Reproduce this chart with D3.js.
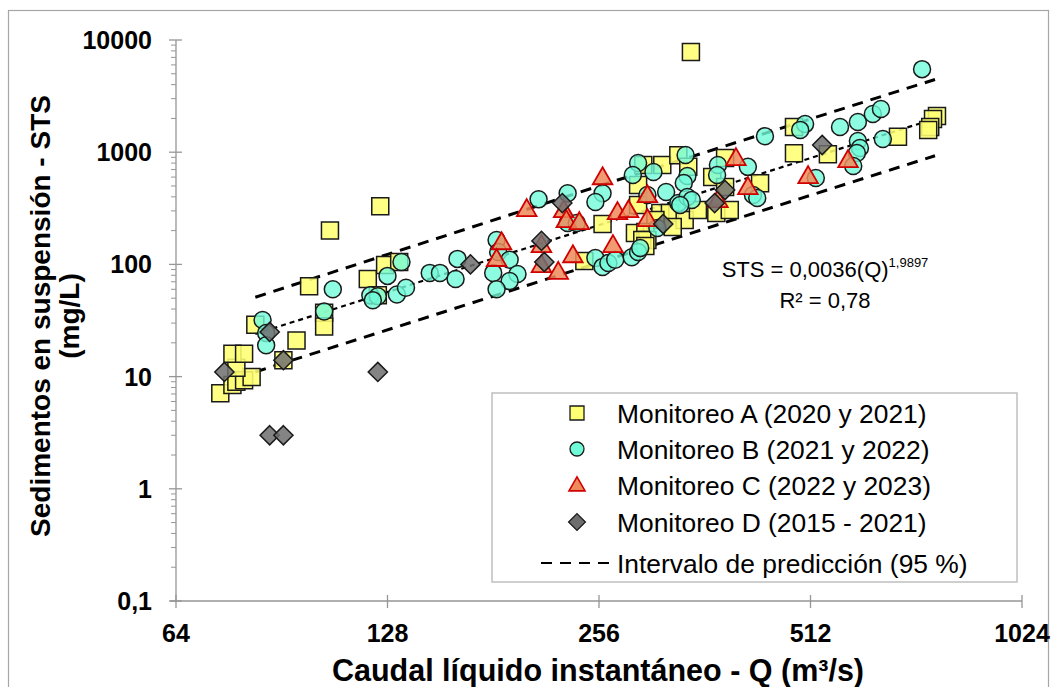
<!DOCTYPE html>
<html><head><meta charset="utf-8">
<script src="https://cdn.jsdelivr.net/npm/d3@7"></script>
<style>
html,body{margin:0;padding:0;background:#fff;}
svg{display:block;font-family:"Liberation Sans",Arial,sans-serif;}
</style></head>
<body><svg id="c" width="1056" height="687"></svg>
<script>
// ---- data (Q m3/s, STS mg/L) ----
const monitoreoA = [[74,7.1],[77,8.4],[78,9.0],[80,9.3],[82,9.9],[78,12],[77,16],[80,16],[83,29],[91,14],[95,21],[99,64],[104,37],[104,28],[106,200],[125,330],[120,74],[124,53],[127,99],[133,105],[244,107],[259,229],[296,770],[315,770],[291,510],[332,940],[343,740],[291,338],[313,287],[323,287],[339,249],[326,215],[308,249],[288,190],[298,194],[300,165],[295,165],[298,146],[346,7800],[371,600],[387,890],[387,490],[354,305],[376,287],[393,305],[434,530],[485,1680],[485,980],[542,960],[682,1370],[775,2100],[765,1980],[758,1680],[753,1580]];
const monitoreoB = [[85,32],[86,24.5],[86,19],[104,38],[107,60],[121,53],[124,52],[122,48],[128,79],[132,54],[136,62],[134,105],[147,84],[152,84],[160,74],[161,112],[183,165],[184,129],[191,110],[181,84],[196,82],[191,71],[183,60],[210,380],[231,430],[231,234],[238,234],[259,430],[253,360],[253,114],[259,95],[264,103],[270,110],[285,116],[291,129],[291,800],[306,666],[286,627],[340,944],[342,614],[338,532],[300,415],[319,442],[332,352],[342,399],[347,375],[310,211],[293,140],[378,770],[377,627],[417,740],[424,415],[430,391],[334,338],[441,1390],[503,1780],[495,1580],[564,1680],[598,1860],[628,2190],[645,2430],[649,1310],[598,1260],[602,1090],[596,984],[589,754],[521,589],[738,5500]];
const monitoreoC = [[202,312],[228,305],[230,249],[240,239],[259,600],[272,293],[212,149],[186,158],[183,112],[212,99],[224,86],[235,121],[268,149],[282,305],[300,415],[300,254],[401,888],[417,490],[378,375],[508,614],[579,852]];
const monitoreoD = [[75,11],[87,25],[91,14],[87,3],[91,3],[124,11],[168,100],[227,352],[212,162],[214,105],[316,229],[374,352],[387,460],[532,1160]];
const fitLine = [[83,24],[770,1990]];
const upperBand = [[83,51],[256,500],[770,4450]];
const lowerBand = [[83,11],[256,104],[770,930]];
const xTicks = [64,128,256,512,1024];
const xTickLabels = ["64","128","256","512","1024"];
const yTicks = [0.1,1,10,100,1000,10000];
const yTickLabels = ["0,1","1","10","100","1000","10000"];
const legendLabels = ["Monitoreo A (2020 y 2021)","Monitoreo B (2021 y 2022)","Monitoreo C (2022 y 2023)","Monitoreo D (2015 - 2021)","Intervalo de predicción (95 %)"];
const xTitle = "Caudal líquido instantáneo - Q (m³/s)";
const yTitle = ["Sedimentos en suspensión - STS","(mg/L)"];
const eqMain = "STS = 0,0036(Q)", eqExp = "1,9897", eqR2 = "R² = 0,78";

// ---- drawing ----
const svg = d3.select("#c");
svg.append("rect").attr("x",8.5).attr("y",10.5).attr("width",1040).attr("height",700)
  .attr("fill","#fff").attr("stroke","#a6a6a6").attr("stroke-width",1.2);

const x = d3.scaleLog().base(2).domain([64,1024]).range([176,1022]);
const y = d3.scaleLog().domain([0.1,10000]).range([601,40]);
const axisColor = "#969696";

// y axis
const gy = svg.append("g");
gy.append("line").attr("x1",176).attr("x2",176).attr("y1",y(10000)).attr("y2",y(0.1)).attr("stroke",axisColor).attr("stroke-width",1.3);
const minors = [];
for (let d = 0.1; d < 10000; d *= 10) for (let k = 2; k <= 9; k++) minors.push(d*k);
gy.selectAll(".mn").data(minors).join("line").attr("x1",171).attr("x2",176)
  .attr("y1",d=>y(d)).attr("y2",d=>y(d)).attr("stroke",axisColor).attr("stroke-width",1);
gy.selectAll(".mj").data(yTicks).join("line").attr("x1",169).attr("x2",182)
  .attr("y1",d=>y(d)).attr("y2",d=>y(d)).attr("stroke",axisColor).attr("stroke-width",1.3);
gy.selectAll("text").data(yTicks).join("text").attr("x",152).attr("y",d=>y(d)).attr("dy","0.36em")
  .attr("text-anchor","end").attr("font-weight","bold").attr("font-size",25).text((d,i)=>yTickLabels[i]);

// x axis
const gx = svg.append("g");
gx.append("line").attr("x1",170).attr("x2",x(1024)).attr("y1",601).attr("y2",601).attr("stroke",axisColor).attr("stroke-width",1.3);
gx.selectAll("line.t").data(xTicks).join("line").attr("class","t").attr("x1",d=>x(d)).attr("x2",d=>x(d))
  .attr("y1",595).attr("y2",608).attr("stroke",axisColor).attr("stroke-width",1.3);
gx.selectAll("text").data(xTicks).join("text").attr("x",d=>x(d)).attr("y",642)
  .attr("text-anchor","middle").attr("font-weight","bold").attr("font-size",25).text((d,i)=>xTickLabels[i]);

// titles
svg.append("text").attr("x",598).attr("y",681).attr("text-anchor","middle").attr("font-weight","bold")
  .attr("font-size",30.5).text(xTitle);
const yt = svg.append("text").attr("transform","translate(50,316) rotate(-90)").attr("text-anchor","middle")
  .attr("font-weight","bold").attr("font-size",28);
yt.append("tspan").attr("x",0).attr("y",0).text(yTitle[0]);
yt.append("tspan").attr("x",0).attr("y",29).text(yTitle[1]);

// lines
const ln = d3.line().x(d=>x(d[0])).y(d=>y(d[1]));
svg.append("path").attr("d",ln(upperBand)).attr("fill","none").attr("stroke","#000").attr("stroke-width",3).attr("stroke-dasharray","11,8");
svg.append("path").attr("d",ln(lowerBand)).attr("fill","none").attr("stroke","#000").attr("stroke-width",3).attr("stroke-dasharray","11,8");
svg.append("path").attr("d",ln(fitLine)).attr("fill","none").attr("stroke","#000").attr("stroke-width",2.2).attr("stroke-dasharray","5,4");

// markers
const styles = {
  A:{fill:"#ffff73", stroke:"#1a1a1a", op:0.88},
  B:{fill:"#70fbd8", stroke:"#1a1a1a", op:0.8},
  C:{fill:"#ef8a5a", stroke:"#d00000", op:0.85},
  D:{fill:"#6e6e6e", stroke:"#1a1a1a", op:0.85}
};
function sym(type, size){
  if(type==="A") return `M${-size/2},${-size/2}h${size}v${size}h${-size}Z`;
  if(type==="B") { const r=size/2; return `M${r},0A${r},${r} 0 1,1 ${-r},0A${r},${r} 0 1,1 ${r},0Z`; }
  if(type==="C") { const w=size*1.15/2, h=size; return `M0,${-h*0.58}L${w},${h*0.42}L${-w},${h*0.42}Z`; }
  if(type==="D") { const r=size*0.6; return `M0,${-r}L${r},0L0,${r}L${-r},0Z`; }
}
const series = [["A",monitoreoA],["B",monitoreoB],["C",monitoreoC],["D",monitoreoD]];
const sizes = {A:17,B:17,C:17,D:16};
series.forEach(([k,data])=>{
  const s = styles[k];
  svg.append("g").selectAll("path").data(data).join("path")
    .attr("transform",d=>`translate(${x(d[0])},${y(d[1])})`)
    .attr("d",sym(k,sizes[k])).attr("fill",s.fill).attr("fill-opacity",s.op)
    .attr("stroke",s.stroke).attr("stroke-width",k==="C"?1.8:1.5);
});

// equation (two centred lines)
const eq = svg.append("text").attr("x",825).attr("y",277).attr("text-anchor","middle").attr("font-size",22);
eq.append("tspan").text(eqMain);
eq.append("tspan").attr("font-size",13).attr("dy",-10).text(eqExp);
svg.append("text").attr("x",825).attr("y",308).attr("text-anchor","middle").attr("font-size",22).text(eqR2);

// legend
const lg = svg.append("g");
lg.append("rect").attr("x",492).attr("y",393).attr("width",525).attr("height",189)
  .attr("fill","#fff").attr("stroke","#bfbfbf").attr("stroke-width",1.5);
const rows = [413,449,485,522,563];
["A","B","C","D"].forEach((k,i)=>{
  const s = styles[k];
  lg.append("path").attr("transform",`translate(577,${rows[i]})`).attr("d",sym(k,14))
    .attr("fill",s.fill).attr("stroke",s.stroke).attr("stroke-width",k==="C"?1.6:1.3);
});
lg.append("line").attr("x1",541).attr("x2",612).attr("y1",rows[4]).attr("y2",rows[4])
  .attr("stroke","#000").attr("stroke-width",2).attr("stroke-dasharray","11,8");
lg.selectAll("text").data(legendLabels).join("text").attr("x",617).attr("y",(d,i)=>rows[i])
  .attr("dy","0.36em").attr("font-size",26.4).text(d=>d);
</script></body></html>
